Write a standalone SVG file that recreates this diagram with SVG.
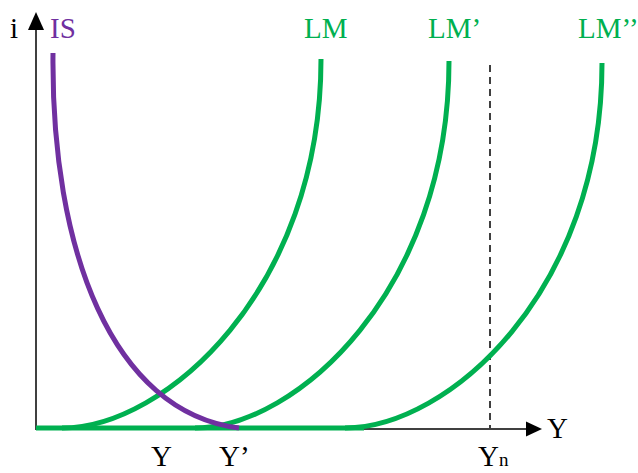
<svg xmlns="http://www.w3.org/2000/svg" width="638" height="473" viewBox="0 0 638 473">
<style>
.lbl{font-family:"Liberation Serif","Times New Roman",serif;font-size:29px}
.blk{fill:#000}
.grn{fill:#00B050}
.pur{fill:#7030A0}
.lm{fill:none;stroke:#00B050;stroke-width:5}
.is{fill:none;stroke:#7030A0;stroke-width:5}
.ax{fill:none;stroke:#000;stroke-width:1.5}
</style>
<rect width="638" height="473" fill="#fff"/>
<g id="axes">
<line class="ax" x1="36" y1="430" x2="36" y2="28"/>
<polygon points="36,12 28,30 44,30" fill="#000"/>
<line class="ax" x1="36" y1="429" x2="528" y2="429"/>
<polygon points="542,429 526,421.5 526,436.5" fill="#000"/>
<line x1="490" y1="65" x2="490" y2="428" stroke="#000" stroke-width="1.5" stroke-dasharray="7,5"/>
</g>
<g id="connectors">
<line class="lm" x1="36" y1="428" x2="364" y2="428"/>
<path id="LM" class="lm" d="M62,428 C165,428 321,290 321,59"/>
<path id="LM1" class="lm" d="M195,428 C296,428 449,290 449,61"/>
<path id="LM2" class="lm" d="M345,428 C448,428 602,292 602,63"/>
<path id="IS" class="is" d="M53,53 C51,250 112,412 239,428"/>
</g>
<g id="labels">
<text class="lbl blk" x="10" y="38">i</text>
<text class="lbl pur" x="50" y="38">IS</text>
<text class="lbl grn" x="304" y="38">LM</text>
<text class="lbl grn" x="428" y="38">LM’</text>
<text class="lbl grn" x="578" y="38">LM’’</text>
<text class="lbl blk" x="547" y="438">Y</text>
<text class="lbl blk" x="151" y="466">Y</text>
<text class="lbl blk" x="219" y="466">Y’</text>
<text class="lbl blk" x="478" y="466">Y<tspan font-size="19">n</tspan></text>
</g>
</svg>
